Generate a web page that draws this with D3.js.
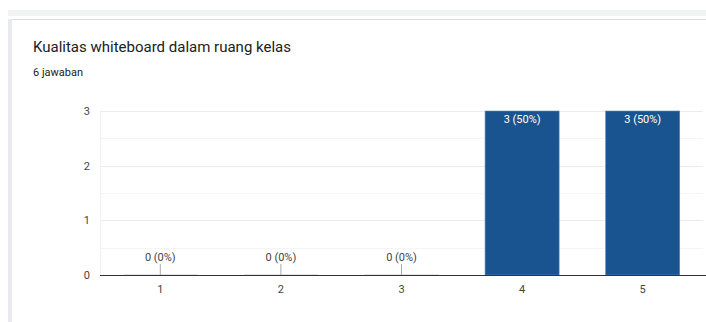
<!DOCTYPE html>
<html>
<head>
<meta charset="utf-8">
<script src="https://cdn.jsdelivr.net/npm/d3@7"></script>
<style>
  body { margin: 0; background: #fff; font-family: Roboto, Arial, sans-serif; }
  #chart { width: 706px; height: 322px; }
</style>
</head>
<body>
<div id="chart"></div>
<script>
// data
var categories = ['1', '2', '3', '4', '5'];
var counts = [0, 0, 0, 3, 3];
var percents = ['0%', '0%', '0%', '50%', '50%'];
var yTicks = [0, 1, 2, 3];
var title = 'Kualitas whiteboard dalam ruang kelas';
var subtitle = '6 jawaban';

var w = 706, h = 322;
var plotLeft = 100, plotRight = 703, plotTop = 111, plotBottom = 275;

var svg = d3.select('#chart')
    .append('svg')
    .attr('width', w)
    .attr('height', h);

// page chrome
svg.append('rect').attr('x', 8).attr('y', 10).attr('width', w - 8).attr('height', 6).attr('fill', '#f1f3f4');
svg.append('rect').attr('x', 8).attr('y', 19).attr('width', w - 8).attr('height', 1).attr('fill', '#dadce0');
svg.append('rect').attr('x', 8).attr('y', 19).attr('width', 4).attr('height', h - 19).attr('fill', '#e8eaf0');

svg.append('text')
    .attr('x', 33).attr('y', 52)
    .attr('font-size', '15px')
    .attr('fill', '#202124')
    .text(title);

svg.append('text')
    .attr('x', 33).attr('y', 76)
    .attr('font-size', '11px')
    .attr('fill', '#202124')
    .text(subtitle);

var xScale = d3.scaleBand()
    .domain(categories)
    .range([plotLeft, plotRight])
    .paddingInner(0.386)
    .paddingOuter(0.193);

var yScale = d3.scaleLinear()
    .domain([0, 3])
    .range([plotBottom, plotTop]);

// gridlines, major and half steps
var minor = d3.range(0.5, 3, 1);
svg.selectAll('.minor')
    .data(minor)
    .enter()
    .append('line')
    .attr('x1', plotLeft).attr('x2', plotRight)
    .attr('y1', function(d) { return Math.round(yScale(d)) + 0.5; })
    .attr('y2', function(d) { return Math.round(yScale(d)) + 0.5; })
    .attr('stroke', '#f5f5f5');

svg.selectAll('.major')
    .data(yTicks.slice(1))
    .enter()
    .append('line')
    .attr('x1', plotLeft).attr('x2', plotRight)
    .attr('y1', function(d) { return Math.round(yScale(d)) + 0.5; })
    .attr('y2', function(d) { return Math.round(yScale(d)) + 0.5; })
    .attr('stroke', '#ebebeb');

svg.append('line')
    .attr('x1', plotLeft + 0.5).attr('x2', plotLeft + 0.5)
    .attr('y1', plotTop).attr('y2', plotBottom)
    .attr('stroke', '#f0f0f0');

var yAxis = d3.axisLeft(yScale).tickValues(yTicks).tickSize(0).tickPadding(10).tickFormat(d3.format('d'));
var gy = svg.append('g')
    .attr('transform', 'translate(' + plotLeft + ',0)')
    .call(yAxis);
gy.select('.domain').remove();
gy.selectAll('text').attr('font-size', '11px').attr('fill', '#444').attr('font-family', 'Roboto, Arial, sans-serif');

// bars
var barColor = '#1a5490';
svg.selectAll('.bar')
    .data(counts)
    .enter()
    .append('rect')
    .attr('x', function(d, i) { return xScale(categories[i]); })
    .attr('y', function(d) { return d > 0 ? yScale(d) : plotBottom - 1; })
    .attr('width', xScale.bandwidth())
    .attr('height', function(d) { return d > 0 ? plotBottom - yScale(d) : 1; })
    .attr('fill', function(d) { return d > 0 ? barColor : '#dfe3e8'; })
    .attr('stroke', function(d) { return d > 0 ? '#5b86b3' : 'none'; })
    .attr('stroke-width', 0.6);

// leader lines for empty bars
svg.selectAll('.leader')
    .data(counts.map(function(d, i) { return {v: d, c: categories[i]}; }).filter(function(d) { return d.v == 0; }))
    .enter()
    .append('line')
    .attr('x1', function(d) { return xScale(d.c) + xScale.bandwidth() / 2; })
    .attr('x2', function(d) { return xScale(d.c) + xScale.bandwidth() / 2; })
    .attr('y1', plotBottom - 11).attr('y2', plotBottom)
    .attr('stroke', '#aaa');

// value labels
svg.selectAll('.vlabel')
    .data(counts)
    .enter()
    .append('text')
    .attr('x', function(d, i) { return xScale(categories[i]) + xScale.bandwidth() / 2; })
    .attr('y', function(d) { return d > 0 ? yScale(d) + 12 : plotBottom - 14; })
    .attr('text-anchor', 'middle')
    .attr('font-size', '11px')
    .attr('fill', function(d) { return d > 0 ? '#fff' : '#444'; })
    .text(function(d, i) { return d + ' (' + percents[i] + ')'; });

// x axis
var xAxis = d3.axisBottom(xScale).tickSize(0).tickPadding(10);
var gx = svg.append('g')
    .attr('transform', 'translate(0,' + plotBottom + ')')
    .call(xAxis);
gx.select('.domain').attr('stroke', '#333').attr('d', 'M' + plotLeft + ',0.5H' + (plotRight + 3));
gx.selectAll('text').attr('font-size', '11px').attr('fill', '#444').attr('font-family', 'Roboto, Arial, sans-serif');
</script>
</body>
</html>
